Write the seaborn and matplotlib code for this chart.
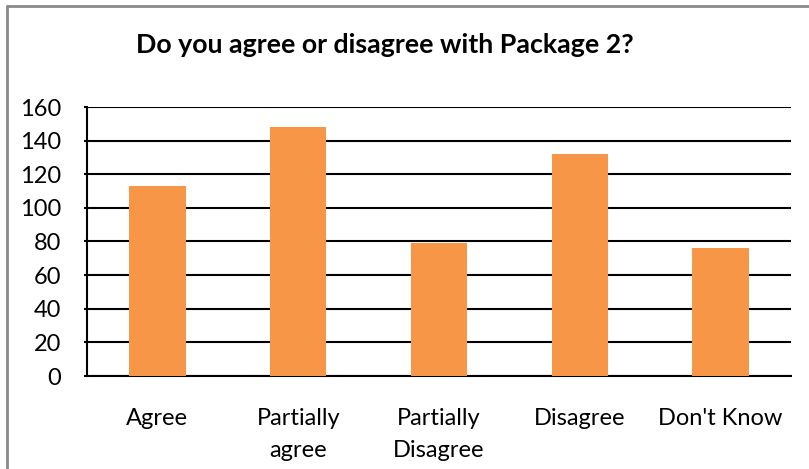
import matplotlib
matplotlib.use("Agg")
import matplotlib.pyplot as plt
from matplotlib.lines import Line2D
import seaborn as sns
import pandas as pd

categories = ["Agree", "Partially\nagree", "Partially\nDisagree", "Disagree", "Don't Know"]
counts = [113, 148, 79, 132, 76]
y_ticks = [0, 20, 40, 60, 80, 100, 120, 140, 160]
title = "Do you agree or disagree with Package 2?"

sns.set_theme(style="white")
plt.rcParams["font.family"] = ["Lato", "DejaVu Sans"]

df = pd.DataFrame({"response": categories, "count": counts})

fig = plt.figure(figsize=(8.09, 4.69), dpi=100)
ax = fig.add_axes([87 / 809, 93 / 469, 704 / 809, 269 / 469])

sns.barplot(data=df, x="response", y="count", color="#F79646",
            saturation=1, width=0.4, linewidth=0, ax=ax, zorder=3)

ax.set_ylim(0, 160)
ax.set_yticks(y_ticks)
ax.set_xlim(-0.5, len(categories) - 0.5)
ax.grid(axis="y", color="black", linewidth=1.5, zorder=0)
ax.set_axisbelow(True)
ax.set_xlabel("")
ax.set_ylabel("")

for side in ("top", "right"):
    ax.spines[side].set_visible(False)
for side in ("left", "bottom"):
    ax.spines[side].set_color("black")
    ax.spines[side].set_linewidth(1.5)

ax.tick_params(axis="y", left=True, length=2.5, width=1.5, color="black",
               pad=16, labelsize=17, labelcolor="black")
ax.tick_params(axis="x", bottom=False, pad=17, labelsize=17, labelcolor="black")
for lbl in ax.get_xticklabels():
    lbl.set_linespacing(1.65)
    lbl.set_verticalalignment("top")

fig.text(385 / 809, 1 - 45 / 469, title, ha="center", va="center",
         fontsize=19.3, fontweight="bold", color="black")

# chart frame
fig.add_artist(Line2D([7.5 / 809, 1], [1 - 6.5 / 469, 1 - 6.5 / 469],
                      transform=fig.transFigure, color="#8a8a8a", linewidth=2))
fig.add_artist(Line2D([7.5 / 809, 7.5 / 809], [0, 1 - 6.5 / 469],
                      transform=fig.transFigure, color="#8a8a8a", linewidth=2))

fig.savefig("out.png", dpi=100, facecolor="white")
